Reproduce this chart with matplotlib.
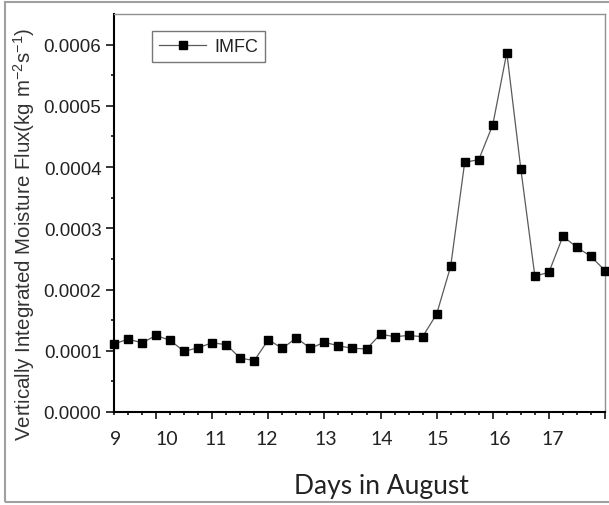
import numpy as np
import matplotlib
matplotlib.use('Agg')
import matplotlib.pyplot as plt
from matplotlib.patches import Rectangle

plt.rcParams['mathtext.fontset'] = 'custom'
plt.rcParams['mathtext.rm'] = 'Liberation Sans'
plt.rcParams['mathtext.it'] = 'Liberation Sans:italic'
plt.rcParams['mathtext.default'] = 'rm'

# ── Data (6-hourly samples, 9-17 August) ─────────────────────
imfc = [1.11, 1.19, 1.13, 1.25, 1.17, 0.99, 1.05, 1.13, 1.10, 0.88,
        0.84, 1.18, 1.04, 1.21, 1.04, 1.14, 1.08, 1.04, 1.03, 1.27,
        1.23, 1.25, 1.23, 1.60, 2.38, 4.08, 4.12, 4.69, 5.87, 3.97,
        2.22, 2.28, 2.87, 2.69, 2.54, 2.31]
imfc = np.array(imfc) * 1e-4

day_labels = ['9', '10', '11', '12', '13', '14', '15', '16', '17']
day_label_pos = [0.13, 3.76, 7.27, 10.9, 15.1, 19.1, 23.1, 27.5, 31.3]
day_ticks = [3, 7, 11, 15, 19, 23, 27, 31, 35]

x = np.arange(len(imfc))

fig = plt.figure(figsize=(6.09, 5.06), dpi=100)
ax = fig.add_axes([114 / 609, 1 - 413 / 506, 491 / 609, 398 / 506])

ax.plot(x, imfc, color='#5a5a5a', lw=0.9, marker='s', ms=6.2,
        mfc='black', mec='black', label='IMFC', clip_on=False, zorder=3)

ax.set_xlim(0, 35)
ax.set_ylim(0, 0.00065)

# y axis
ax.set_yticks(np.arange(0, 0.00061, 0.0001))
ax.set_yticks(np.arange(0.00005, 0.00065, 0.0001), minor=True)
ax.yaxis.set_major_formatter(matplotlib.ticker.FormatStrFormatter('%.4f'))
ax.tick_params(axis='y', which='major', length=6, width=1.1, pad=3,
               labelsize=13.5, labelcolor='#222222')
ax.tick_params(axis='y', which='minor', length=2.5, width=1.1)
for t in ax.get_yticklabels():
    t.set_family('Liberation Sans')

# x axis: tick marks only, labels on a secondary axis
ax.set_xticks(day_ticks)
ax.set_xticklabels([])
ax.set_xticks(x, minor=True)
ax.tick_params(axis='x', which='major', length=5, width=1.1)
ax.tick_params(axis='x', which='minor', length=2.5, width=1.1)

sec = ax.secondary_xaxis('bottom')
sec.set_xticks(day_label_pos, day_labels)
sec.tick_params(length=0, pad=13, labelsize=14, labelcolor='#222222')
sec.spines['bottom'].set_visible(False)
for t in sec.get_xticklabels():
    t.set_family('Lato')

for s in ['left', 'bottom']:
    ax.spines[s].set_linewidth(1.5)
    ax.spines[s].set_color('black')
for s in ['top', 'right']:
    ax.spines[s].set_linewidth(1.0)
    ax.spines[s].set_color('#909090')

fig.text(24 / 609, 1 - 234 / 506,
         'Vertically Integrated Moisture Flux(kg m$^{-2}$s$^{-1}$)',
         family='Liberation Sans', fontsize=14.8, color='#333333',
         rotation=90, ha='center', va='center')

fig.text(0.545 * 491 / 609 + 114 / 609, 1 - 487 / 506, 'Days in August',
         family='Lato', fontsize=19, color='#222222',
         ha='center', va='center')

leg = ax.legend(loc='upper left', bbox_to_anchor=(38 / 491, 1 - 17 / 398),
                borderaxespad=0, frameon=True, fancybox=False,
                edgecolor='#555555',
                prop={'family': 'Liberation Sans', 'size': 13},
                handlelength=2.6, borderpad=0.4, handletextpad=0.45)
leg.get_frame().set_linewidth(1.0)
for t in leg.get_texts():
    t.set_color('#222222')

# outer frame of the figure
fig.patches.append(Rectangle((5 / 609, 3 / 506), 1.0, 500 / 506,
                             transform=fig.transFigure, fill=False,
                             edgecolor='#a0a0a0', lw=1.5))

fig.savefig('out.png', dpi=100)
